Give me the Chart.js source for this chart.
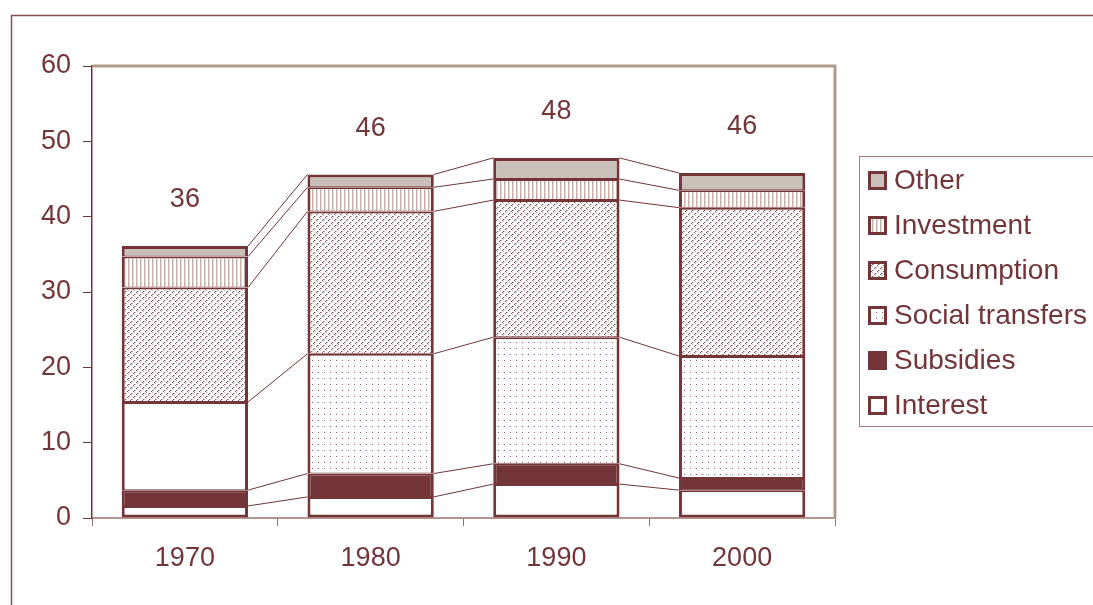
<!DOCTYPE html>
<html>
<head>
<meta charset="utf-8">
<script src="https://cdn.jsdelivr.net/npm/chart.js"></script>
<style>
  html, body { margin: 0; padding: 0; background: #fff; }
  #wrap { width: 1093px; height: 605px; }
</style>
</head>
<body>
<div id="wrap"><canvas id="myChart" width="1093" height="605"></canvas></div>
<script>
// values (share of GDP, %)
const years = ['1970', '1980', '1990', '2000']
const interest = [1.6, 2.8, 4.5, 3.7]
const subsidies = [2.1, 3.1, 2.7, 1.6]
const socialTransfers = [11.7, 15.9, 16.8, 16.2]
const consumption = [15.2, 18.9, 18.2, 19.7]
const investment = [4.1, 3.2, 2.8, 2.3]
const other = [1.4, 1.7, 2.8, 2.3]

const MAROON = '#733538'
const TAN = '#b09a8a'
const FONT = 'Liberation Sans, Arial, sans-serif'

const canvas = document.getElementById('myChart')
const ctx = canvas.getContext('2d')

const makePattern = (w, h, draw) => {
  const c = document.createElement('canvas')
  c.width = w
  c.height = h
  const g = c.getContext('2d')
  g.fillStyle = '#ffffff'
  g.fillRect(0, 0, w, h)
  draw(g)
  return ctx.createPattern(c, 'repeat')
}

const px = (g, color, pts) => {
  g.fillStyle = color
  pts.forEach(p => g.fillRect(p[0], p[1], 1, 1))
}

const stripes = makePattern(4, 1, g => {
  px(g, '#c4b2aa', [[0, 0]])
  px(g, '#e4dad5', [[1, 0]])
})

const dots = makePattern(6, 6, g => {
  px(g, '#9c5c62', [[0, 0]])
})

const squiggle = makePattern(6, 6, g => {
  px(g, '#8a4c52', [[2, 0], [1, 1], [5, 3], [4, 4]])
  px(g, '#d4b2b5', [[3, 0], [2, 2], [0, 3], [5, 5]])
})

// the 1970 social transfers block is drawn blank in the original
const series = [
  { label: 'Interest', data: interest, fill: '#ffffff' },
  { label: 'Subsidies', data: subsidies, fill: MAROON },
  { label: 'Social transfers', data: socialTransfers, fill: dots, fills: ['#ffffff', dots, dots, dots] },
  { label: 'Consumption', data: consumption, fill: squiggle },
  { label: 'Investment', data: investment, fill: stripes },
  { label: 'Other', data: other, fill: '#c9c0ba' }
]

const datasets = series.map((s, i) => ({
  label: s.label,
  data: s.data,
  backgroundColor: s.fills || s.fill,
  borderColor: MAROON,
  borderSkipped: false,
  borderWidth: {
    left: 3,
    right: 3,
    top: i === series.length - 1 ? 3 : 2,
    bottom: i === 0 ? 3 : 1
  },
  barPercentage: 0.68,
  categoryPercentage: 1
}))

const extras = {
  id: 'extras',
  beforeDraw(chart) {
    const c = chart.ctx
    c.save()
    c.fillStyle = '#fff'
    c.fillRect(0, 0, chart.width, chart.height)
    c.strokeStyle = '#8e4d55'
    c.lineWidth = 1.5
    c.beginPath()
    c.moveTo(11.5, chart.height + 5)
    c.lineTo(11.5, 15.5)
    c.lineTo(chart.width + 5, 15.5)
    c.stroke()
    c.restore()
  },
  afterDatasetsDraw(chart) {
    const c = chart.ctx
    const area = chart.chartArea
    c.save()

    // series lines between bars
    c.strokeStyle = MAROON
    c.lineWidth = 1
    chart.data.datasets.forEach((ds, d) => {
      const bars = chart.getDatasetMeta(d).data
      for (let i = 0; i < bars.length - 1; i++) {
        const a = bars[i], b = bars[i + 1]
        c.beginPath()
        c.moveTo(a.x + a.width / 2, a.y)
        c.lineTo(b.x - b.width / 2, b.y)
        c.stroke()
      }
    })

    // plot area frame, top and right
    c.strokeStyle = TAN
    c.lineWidth = 3
    c.beginPath()
    c.moveTo(area.left, area.top)
    c.lineTo(area.right, area.top)
    c.lineTo(area.right, area.bottom)
    c.stroke()

    // totals above bars
    const topMeta = chart.getDatasetMeta(chart.data.datasets.length - 1)
    c.fillStyle = MAROON
    c.font = '27px ' + FONT
    c.textAlign = 'center'
    c.textBaseline = 'middle'
    years.forEach((y, i) => {
      const total = series.reduce((s, ser) => s + ser.data[i], 0)
      const bar = topMeta.data[i]
      c.fillText(Math.round(total), bar.x, bar.y - 46)
    })

    // legend
    const lx = 859.5, ly = 156.5
    c.strokeStyle = '#a8787c'
    c.lineWidth = 1
    c.strokeRect(lx, ly, 300, 270)
    c.textAlign = 'left'
    c.font = '28px ' + FONT
    series.slice().reverse().forEach((s, k) => {
      const cy = 180 + k * 45
      c.fillStyle = MAROON
      c.fillRect(868, cy - 9, 19, 19)
      c.fillStyle = s.fill
      c.fillRect(871, cy - 6, 13, 13)
      c.fillStyle = MAROON
      c.fillText(s.label, 894, cy + 1)
    })
    c.restore()
  }
}

const config = {
  type: 'bar',
  data: { labels: years, datasets: datasets },
  options: {
    responsive: false,
    animation: false,
    devicePixelRatio: 1,
    layout: { padding: { left: 0, right: 258, top: 66, bottom: 0 } },
    plugins: {
      legend: { display: false },
      tooltip: { enabled: false }
    },
    scales: {
      x: {
        stacked: true,
        afterFit: s => { s.height = 87 },
        grid: {
          offset: true,
          drawOnChartArea: false,
          drawTicks: true,
          tickLength: 8,
          color: '#9c6a6e',
          lineWidth: 1
        },
        border: { display: true, color: '#b5958f', width: 2 },
        ticks: { color: MAROON, font: { family: FONT, size: 27 }, padding: 16 }
      },
      y: {
        stacked: true,
        min: 0,
        max: 60,
        afterFit: s => { s.width = 92 },
        grid: {
          drawOnChartArea: false,
          drawTicks: true,
          tickLength: 9,
          color: MAROON,
          lineWidth: 1
        },
        border: { display: true, color: MAROON, width: 1.5 },
        ticks: { stepSize: 10, color: MAROON, font: { family: FONT, size: 27 }, padding: 12 }
      }
    }
  },
  plugins: [extras]
}

const myChart = new Chart(canvas, config)
</script>
</body>
</html>
